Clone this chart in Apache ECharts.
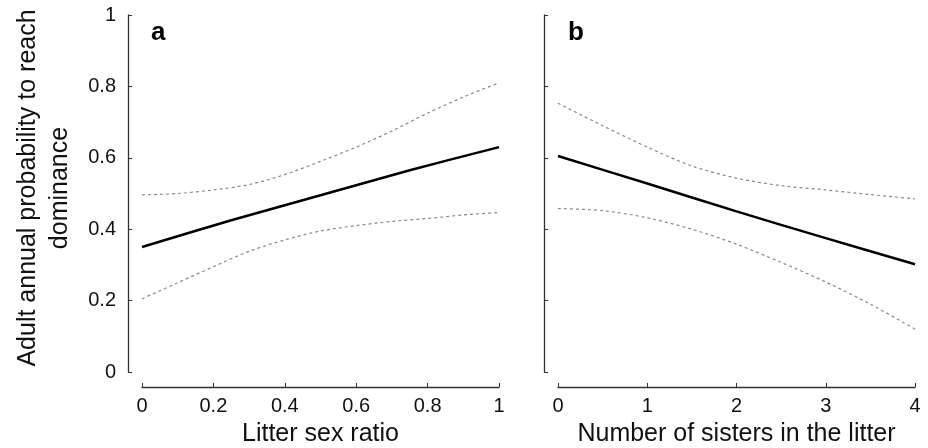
<!DOCTYPE html>
<html>
<head>
<meta charset="utf-8">
<script src="https://cdn.jsdelivr.net/npm/echarts@6/dist/echarts.min.js"></script>
<style>
  html, body { margin: 0; padding: 0; background: #fff; }
  #chart { width: 928px; height: 448px; }
</style>
</head>
<body>
<div id="chart"></div>
<script>
// panel a: litter sex ratio
const sexRatio = [0, 0.1, 0.2, 0.3, 0.4, 0.5, 0.6, 0.7, 0.8, 0.9, 1]
const sexRatioUpper = [0.496, 0.5, 0.51, 0.525, 0.553, 0.59, 0.63, 0.675, 0.725, 0.77, 0.81]
const sexRatioLower = [0.205, 0.25, 0.295, 0.338, 0.37, 0.395, 0.41, 0.422, 0.43, 0.44, 0.447]
const sexRatioFitX = [0, 0.25, 0.5, 0.75, 1]
const sexRatioFit = [0.35, 0.425, 0.495, 0.565, 0.63]

// panel b: number of sisters
const sisters = [0, 0.5, 1, 1.5, 2, 2.5, 3, 3.5, 4]
const sistersUpper = [0.753, 0.69, 0.63, 0.577, 0.543, 0.522, 0.51, 0.497, 0.485]
const sistersLower = [0.458, 0.452, 0.432, 0.4, 0.358, 0.307, 0.252, 0.19, 0.12]
const sistersFitX = [0, 1, 2, 3, 4]
const sistersFit = [0.605, 0.528, 0.45, 0.375, 0.302]

const pairs = (xs, ys) => xs.map((x, i) => [x, ys[i]])

const chart = echarts.init(document.getElementById('chart'))

const axisColor = '#333'
const fontFamily = 'Liberation Sans, Arial'
const tickFont = { fontFamily: fontFamily, fontSize: 20, color: '#111' }
const titleFont = { fontFamily: fontFamily, fontSize: 25, color: '#111' }

const xAxisBase = {
  type: 'value',
  offset: 15,
  axisLine: { onZero: false, lineStyle: { color: axisColor, width: 1.3 } },
  axisTick: { inside: true, length: 4, lineStyle: { color: axisColor } },
  axisLabel: Object.assign({ margin: 9 }, tickFont),
  splitLine: { show: false },
  nameLocation: 'middle',
  nameGap: 35,
  nameTextStyle: titleFont
}

const yAxisBase = {
  type: 'value',
  min: 0,
  max: 1,
  interval: 0.2,
  offset: 14,
  axisLine: { show: true, onZero: false, lineStyle: { color: axisColor, width: 1.3 } },
  axisTick: { show: true, inside: true, length: 4, lineStyle: { color: axisColor } },
  splitLine: { show: false }
}

const dashed = { color: '#8a8a8a', width: 1.2, type: [3, 3] }
const solid = { color: '#000', width: 2.5 }

const option = {
  animation: false,
  grid: [
    { left: 142, right: 429, top: 15, bottom: 76, outerBoundsMode: 'none' },
    { left: 558, right: 13, top: 15, bottom: 76, outerBoundsMode: 'none' }
  ],
  xAxis: [
    Object.assign({}, xAxisBase, { gridIndex: 0, min: 0, max: 1, interval: 0.2, name: 'Litter sex ratio' }),
    Object.assign({}, xAxisBase, { gridIndex: 1, min: 0, max: 4, interval: 1, name: 'Number of sisters in the litter' })
  ],
  yAxis: [
    Object.assign({}, yAxisBase, { gridIndex: 0, axisLabel: Object.assign({ margin: 12 }, tickFont) }),
    Object.assign({}, yAxisBase, { gridIndex: 1, axisLabel: { show: false } })
  ],
  graphic: [
    {
      type: 'text', x: 44, y: 188, rotation: Math.PI / 2,
      style: {
        text: 'Adult annual probability to reach\ndominance',
        font: '25px Liberation Sans, Arial', fill: '#111',
        align: 'center', verticalAlign: 'middle', lineHeight: 32
      }
    },
    { type: 'text', left: 151, top: 20, style: { text: 'a', font: 'bold 26px Liberation Sans, Arial', fill: '#000' } },
    { type: 'text', left: 568, top: 20, style: { text: 'b', font: 'bold 26px Liberation Sans, Arial', fill: '#000' } }
  ],
  series: [
    { type: 'line', xAxisIndex: 0, yAxisIndex: 0, data: pairs(sexRatio, sexRatioUpper), symbol: 'none', smooth: 0.3, lineStyle: dashed },
    { type: 'line', xAxisIndex: 0, yAxisIndex: 0, data: pairs(sexRatio, sexRatioLower), symbol: 'none', smooth: 0.3, lineStyle: dashed },
    { type: 'line', xAxisIndex: 0, yAxisIndex: 0, data: pairs(sexRatioFitX, sexRatioFit), symbol: 'none', smooth: 0.3, lineStyle: solid },
    { type: 'line', xAxisIndex: 1, yAxisIndex: 1, data: pairs(sisters, sistersUpper), symbol: 'none', smooth: 0.3, lineStyle: dashed },
    { type: 'line', xAxisIndex: 1, yAxisIndex: 1, data: pairs(sisters, sistersLower), symbol: 'none', smooth: 0.3, lineStyle: dashed },
    { type: 'line', xAxisIndex: 1, yAxisIndex: 1, data: pairs(sistersFitX, sistersFit), symbol: 'none', smooth: 0.3, lineStyle: solid }
  ]
}

chart.setOption(option)
</script>
</body>
</html>
